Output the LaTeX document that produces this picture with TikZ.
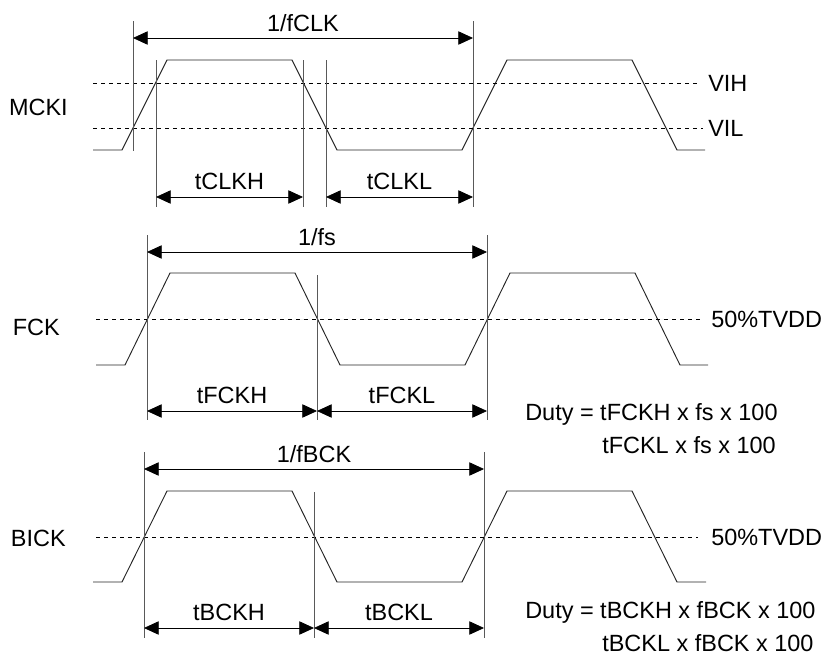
\documentclass[tikz,border=0pt]{standalone}
\usepackage{fontspec}
\setmainfont{Liberation Sans}
\usetikzlibrary{arrows.meta}
\begin{document}
\begin{tikzpicture}[x=0.75pt, y=-0.75pt,
  wave/.style={black!85, line width=0.7pt},
  thr/.style={black, line width=0.6pt, dash pattern=on 3pt off 3pt},
  guide/.style={black!65, line width=0.75pt},
  dim/.style={{Triangle[length=11pt,width=10pt]}-{Triangle[length=11pt,width=10pt]}, black, line width=0.6pt},
  lbl/.style={font=\fontsize{17.6}{20}\selectfont, inner sep=0pt, text depth=0pt}]

\useasboundingbox (0,0) rectangle (826,661);

%% the three clocks
 \foreach \dx/\hi/\lo/\e in {0/60/150/705, 3/273/365/708, 0/491/582/706}
  {
    \draw[wave] (93+\dx,\lo) -- (122+\dx,\lo) -- (167+\dx,\hi) -- (292+\dx,\hi)
      -- (337+\dx,\lo) -- (462+\dx,\lo) -- (507+\dx,\hi) -- (632+\dx,\hi)
      -- (677+\dx,\lo) -- (\e,\lo);
  }

%% levels
\draw[thr] (93,83) -- (697,83);
\draw[thr] (93,128) -- (703,128);
\draw[thr] (96,319) -- (700,319);
\draw[thr] (96,537) -- (698,537);
\node[lbl, anchor=west] (vih) at (708,83) {VIH};
\node[lbl, anchor=west] (vil) at (708,128) {VIL};
\node[lbl, anchor=west] (fvdd) at (711,319) {50\%TVDD};
\node[lbl, anchor=west] (bvdd) at (711,537) {50\%TVDD};

%% signal names
\node[lbl, anchor=east] (mcki) at (68,107) {MCKI};
\node[lbl, anchor=east] (fck) at (60,327) {FCK};
\node[lbl, anchor=east] (bick) at (66,538) {BICK};

%% MCKI timing
\draw[guide] (133,21) -- (133,151);
\draw[guide] (473,21) -- (473,207);
\draw[guide] (156,60) -- (156,207);
\draw[guide] (303,60) -- (303,207);
\draw[guide] (326,60) -- (326,207);
\coordinate (mp1) at (133,38);  \coordinate (mp2) at (473,38);
\coordinate (mh1) at (156,197); \coordinate (mh2) at (303,197);
\coordinate (ml1) at (326,197); \coordinate (ml2) at (473,197);
\draw[dim] (mp1) -- node[lbl, midway, yshift=11.5pt] (fclk) {1/fCLK} (mp2);
\draw[dim] (mh1) -- node[lbl, midway, yshift=11.5pt] (tclkh) {tCLKH} (mh2);
\draw[dim] (ml1) -- node[lbl, midway, yshift=11.5pt] (tclkl) {tCLKL} (ml2);

%% FCK timing
\draw[guide] (147,235) -- (147,420);
\draw[guide] (317,275) -- (317,420);
\draw[guide] (487,235) -- (487,420);
\coordinate (fp1) at (147,252); \coordinate (fp2) at (487,252);
\coordinate (fh1) at (147,411); \coordinate (fh2) at (317,411);
\coordinate (fl2) at (487,411);
\draw[dim] (fp1) -- node[lbl, midway, yshift=11.5pt] (fs) {1/fs} (fp2);
\draw[dim] (fh1) -- node[lbl, midway, yshift=11.5pt] (tfckh) {tFCKH} (fh2);
\draw[dim] (fh2) -- node[lbl, midway, yshift=11.5pt] (tfckl) {tFCKL} (fl2);
\node[lbl, anchor=west] (fduty) at (525,412) {Duty = tFCKH x fs x 100};
\node[lbl, anchor=west] (fduty2) at (602,445) {tFCKL x fs x 100};

%% BICK timing
\draw[guide] (144,452) -- (144,638);
\draw[guide] (314,492) -- (314,638);
\draw[guide] (484,452) -- (484,638);
\coordinate (bp1) at (144,469); \coordinate (bp2) at (484,469);
\coordinate (bh1) at (144,628); \coordinate (bh2) at (314,628);
\coordinate (bl2) at (484,628);
\draw[dim] (bp1) -- node[lbl, midway, yshift=11.5pt] (fbck) {1/fBCK} (bp2);
\draw[dim] (bh1) -- node[lbl, midway, yshift=11.5pt] (tbckh) {tBCKH} (bh2);
\draw[dim] (bh2) -- node[lbl, midway, yshift=11.5pt] (tbckl) {tBCKL} (bl2);
\node[lbl, anchor=west] (bduty) at (525,610) {Duty = tBCKH x fBCK x 100};
\node[lbl, anchor=west] (bduty2) at (602,643) {tBCKL x fBCK x 100};

\end{tikzpicture}
\end{document}
